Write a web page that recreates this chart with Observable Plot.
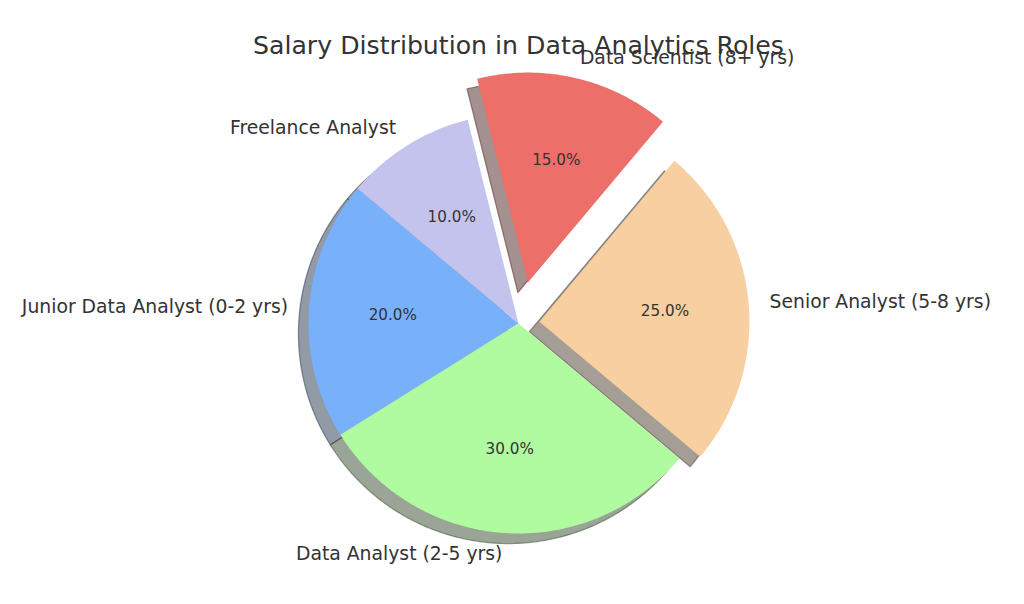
<!DOCTYPE html>
<html>
<head>
<meta charset="utf-8">
<script src="https://cdn.jsdelivr.net/npm/d3@7"></script>
<script src="https://cdn.jsdelivr.net/npm/@observablehq/plot@0.6"></script>
<style>
  html, body { margin: 0; padding: 0; background: #ffffff; }
  #chart svg { display: block; }
</style>
</head>
<body>
<div id="chart"></div>
<script>
// ---- data ----
const title = "Salary Distribution in Data Analytics Roles";
const roles = ["Junior Data Analyst (0-2 yrs)", "Data Analyst (2-5 yrs)", "Senior Analyst (5-8 yrs)", "Data Scientist (8+ yrs)", "Freelance Analyst"];
const shares = [20, 30, 25, 15, 10];
const explode = [0, 0, 0.1, 0.2, 0];
const colors = ["#78b1fa", "#b0fba0", "#f7cfa0", "#ed6f6a", "#c4c3ee"];
const startAngle = 140;

// ---- layout ----
const W = 1024, H = 604;
const cxPx = 518, cyPx = 323, Rpx = 210;
const shadowOff = 0.048;
const textColor = "#333333";
const font = "DejaVu Sans, sans-serif";

const total = d3.sum(shares);
const rad = d => d * Math.PI / 180;
let acc = 0;
const slices = shares.map((v, i) => {
  const t1 = startAngle + acc / total * 360;
  acc += v;
  const t2 = startAngle + acc / total * 360;
  const mid = (t1 + t2) / 2;
  const ox = explode[i] * Math.cos(rad(mid));
  const oy = explode[i] * Math.sin(rad(mid));
  const n = Math.ceil((t2 - t1) / 0.5);
  const pts = [{x: ox, y: oy}];
  for (let k = 0; k <= n; k++) {
    const a = rad(t1 + (t2 - t1) * k / n);
    pts.push({x: ox + Math.cos(a), y: oy + Math.sin(a)});
  }
  const c = d3.rgb(colors[i]);
  const shade = d3.rgb(c.r * 0.3, c.g * 0.3, c.b * 0.3).formatHex();
  return {
    role: roles[i], value: v, color: colors[i], shade, pts,
    shadowPts: pts.map(p => ({x: p.x - shadowOff, y: p.y - shadowOff})),
    pct: {x: ox + 0.6 * Math.cos(rad(mid)), y: oy + 0.6 * Math.sin(rad(mid)), text: (v / total * 100).toFixed(1) + "%"},
    lab: {x: ox + 1.1 * Math.cos(rad(mid)), y: oy + 1.1 * Math.sin(rad(mid)), text: roles[i]}
  };
});

const shadowMarks = slices.map(s => Plot.line(s.shadowPts, {
  x: "x", y: "y", curve: "linear-closed",
  fill: s.shade, fillOpacity: 0.5, stroke: s.shade, strokeOpacity: 0.5, strokeWidth: 1.2
}));
const wedgeMarks = slices.map(s => Plot.line(s.pts, {
  x: "x", y: "y", curve: "linear-closed", fill: s.color, stroke: "none"
}));
const pcts = slices.map(s => s.pct);
const labsL = slices.map(s => s.lab).filter(d => d.x > 0);
const labsR = slices.map(s => s.lab).filter(d => d.x <= 0);

const chart = Plot.plot({
  width: W, height: H,
  margin: 0,
  style: {background: "#ffffff", fontFamily: font},
  x: {domain: [-cxPx / Rpx, (W - cxPx) / Rpx], axis: null},
  y: {domain: [-(H - cyPx) / Rpx, cyPx / Rpx], axis: null},
  marks: [
    ...shadowMarks,
    ...wedgeMarks,
    Plot.text(pcts, {x: "x", y: "y", text: "text", fontSize: 15.2, fill: textColor, textAnchor: "middle", lineAnchor: "middle"}),
    Plot.text(labsL, {x: "x", y: "y", text: "text", fontSize: 18.8, fill: textColor, textAnchor: "start", lineAnchor: "middle"}),
    Plot.text(labsR, {x: "x", y: "y", text: "text", fontSize: 18.8, fill: textColor, textAnchor: "end", lineAnchor: "middle"}),
    Plot.text([title], {frameAnchor: "top", dx: 6, dy: 45, text: d => d, fontSize: 25.2, fill: textColor, lineAnchor: "middle"})
  ]
});
document.getElementById("chart").appendChild(chart);
</script>
</body>
</html>
